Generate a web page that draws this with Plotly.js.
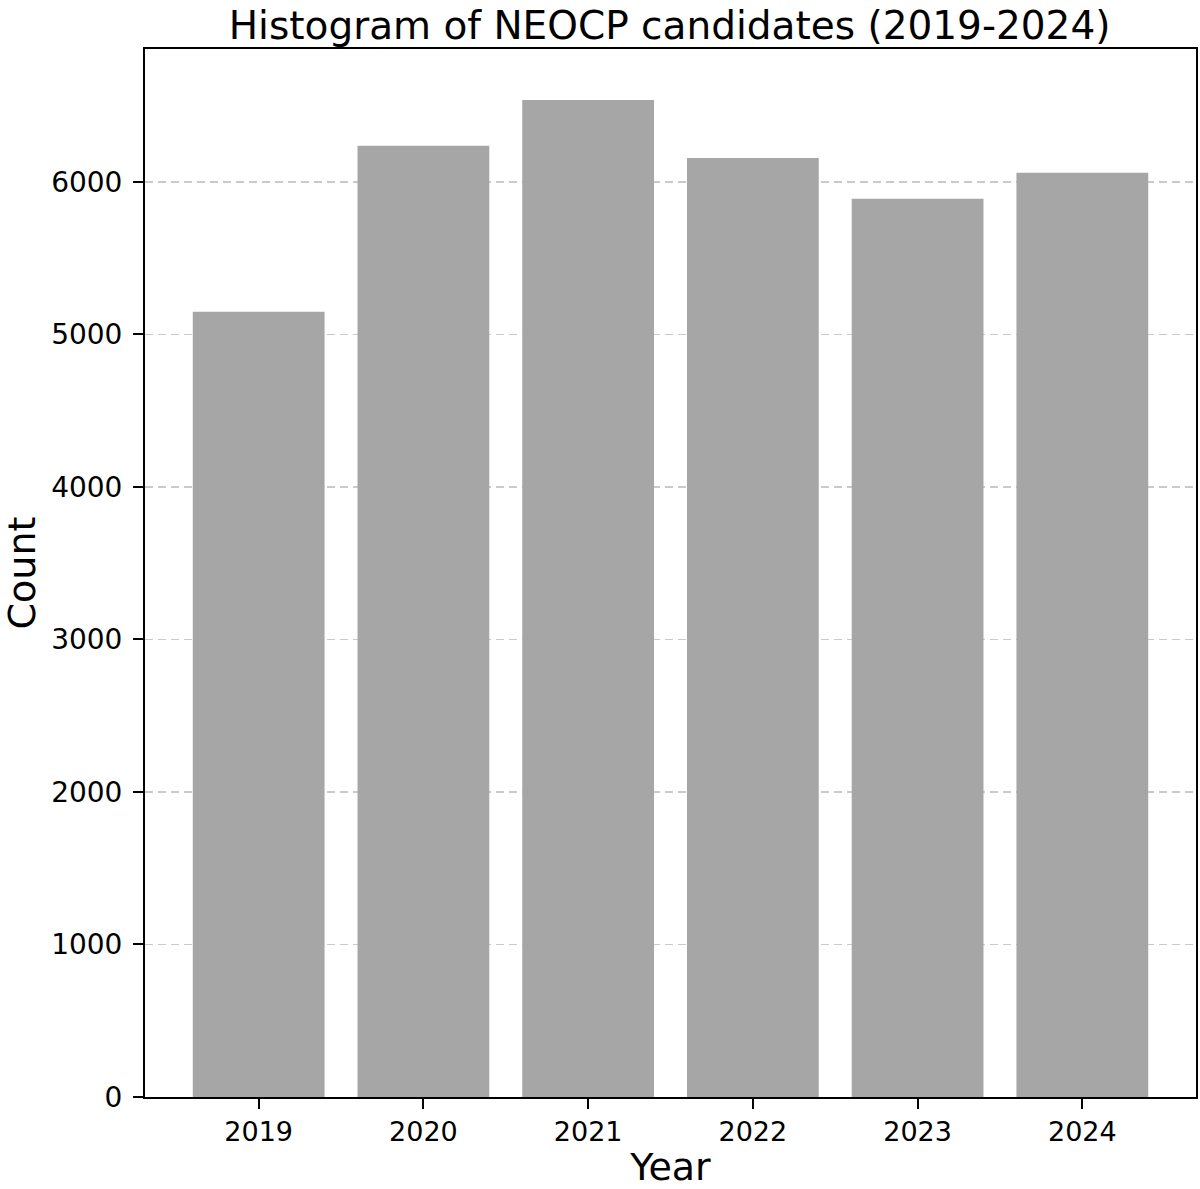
<!DOCTYPE html>
<html>
<head>
<meta charset="utf-8">
<script src="https://cdn.plot.ly/plotly-3.0.1.min.js"></script>
<style>html,body{margin:0;padding:0;background:#fff;}#chart{width:1200px;height:1189px;}</style>
</head>
<body>
<div id="chart"></div>
<script>
const years = [2019, 2020, 2021, 2022, 2023, 2024];
const counts = [5148, 6236, 6537, 6157, 5889, 6059];
const yTicks = [0, 1000, 2000, 3000, 4000, 5000, 6000];

const font = 'DejaVu Sans, sans-serif';

Plotly.newPlot('chart', [{
  type: 'bar',
  x: years,
  y: counts,
  width: 0.8,
  marker: {color: '#a6a6a6', line: {width: 0}},
  hoverinfo: 'x+y'
}], {
  width: 1200,
  height: 1189,
  margin: {l: 145, r: 4, t: 49, b: 92},
  paper_bgcolor: '#fff',
  plot_bgcolor: '#fff',
  showlegend: false,
  title: {text: 'Histogram of NEOCP candidates (2019-2024)', font: {family: font, size: 39, color: '#000'}, x: 0.558, xanchor: 'center', y: 0.99, yanchor: 'top'},
  xaxis: {
    range: [2018.31, 2024.69],
    tickmode: 'array', tickvals: years, ticktext: years.map(String),
    ticks: 'outside', ticklen: 10, tickwidth: 2, tickcolor: '#000',
    showline: true, linecolor: '#000', linewidth: 2, mirror: true,
    showgrid: false, zeroline: false,
    tickfont: {family: font, size: 27, color: '#000'},
    title: {text: 'Year', font: {family: font, size: 38, color: '#000'}, standoff: 17}
  },
  yaxis: {
    range: [0, 6871],
    tickmode: 'array', tickvals: yTicks, ticktext: yTicks.map(String),
    ticks: 'outside', ticklen: 10, tickwidth: 2, tickcolor: '#000',
    showline: true, linecolor: '#000', linewidth: 2, mirror: true,
    showgrid: true, gridcolor: 'rgba(180,180,180,0.7)', gridwidth: 1.5, griddash: '8px,5px',
    zeroline: false, layer: 'above traces',
    tickfont: {family: font, size: 28, color: '#000'},
    ticklabelstandoff: 5,
    title: {text: 'Count', font: {family: font, size: 38, color: '#000'}, standoff: 18}
  }
}, {displayModeBar: false, staticPlot: true});
</script>
</body>
</html>
